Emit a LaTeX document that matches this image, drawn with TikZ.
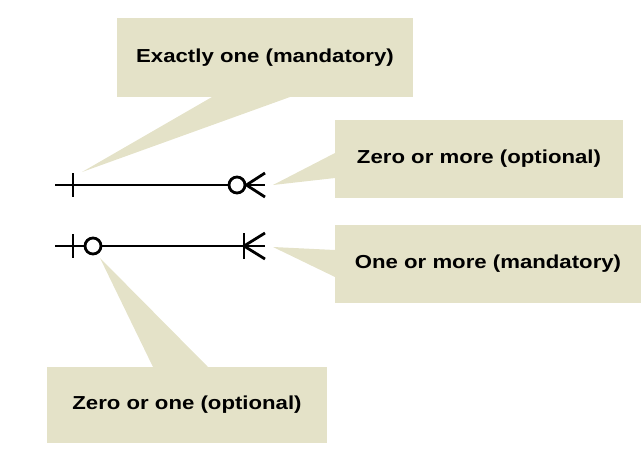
\documentclass[tikz,border=0pt]{standalone}
\usepackage{fontspec}
\setmainfont{Liberation Sans}[FakeStretch=1.18]
\usepackage{tikz}
\definecolor{calloutfill}{RGB}{228,226,200}

\begin{document}
\begin{tikzpicture}[x=1pt, y=-1pt, er/.style={line width=2.8pt}]
\useasboundingbox (0,0) rectangle (641,451);
\begin{scope}[every node/.style={fill=calloutfill, inner sep=0pt, font=\fontsize{18.8}{22}\selectfont\bfseries}]
  \node[minimum width=296pt, minimum height=79pt] (one) at (265,57.5) {Exactly one (mandatory)};
  \node[minimum width=288pt, minimum height=78pt] (zmany) at (479,159) {Zero or more (optional)};
  \node[minimum width=306pt, minimum height=78pt] (omany) at (488,264) {One or more (mandatory)};
  \node[minimum width=280pt, minimum height=76pt] (zone) at (187,405) {Zero or one (optional)};
\end{scope}

% tips of the callouts
\coordinate (t1) at (82,172);
\coordinate (t2) at (273,185);
\coordinate (t3) at (273,247);
\coordinate (t4) at (100,258);
\fill[calloutfill] (t1) -- (212,97) -- (290,97) -- cycle;
\fill[calloutfill] (t2) -- (335,153) -- (335,178) -- cycle;
\fill[calloutfill] (t3) -- (335,250) -- (335,277) -- cycle;
\fill[calloutfill] (t4) -- (153,367) -- (208,367) -- cycle;

\begin{scope}[every node/.style={circle, draw, er, fill=white, inner sep=0pt, minimum size=16pt}]
  % upper line
  \coordinate (a) at (55,185);
  \node (b) at (237,185) {};
  \coordinate (c) at (265,185);
  \draw[er] (a) -- (b.west);
  \draw[er] (73,173) -- (73,197);
  \draw[er] (b.east) -- (c);
  \draw[er] (265,173) -- (b.east) -- (265,197);

  % lower line
  \coordinate (d) at (55,246);
  \node (e) at (93,246) {};
  \coordinate (f) at (265,246);
  \draw[er] (d) -- (e.west);
  \draw[er] (73,234) -- (73,258);
  \draw[er] (e.east) -- (f);
  \draw[er] (244,233) -- (244,259);
  \draw[er] (265,233) -- (244,246) -- (265,259);
\end{scope}

\end{tikzpicture}
\end{document}
